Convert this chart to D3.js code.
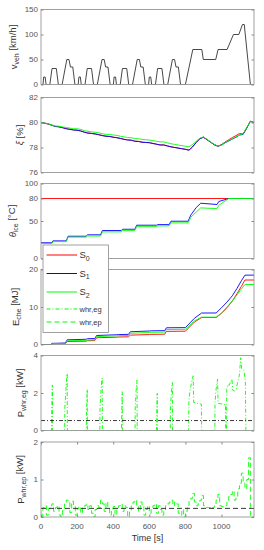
<!DOCTYPE html>
<html>
<head>
<meta charset="utf-8">
<script src="https://cdn.jsdelivr.net/npm/d3@7"></script>
<style>
  body { margin: 0; background: #fff; }
  svg { display: block; font-family: "Liberation Sans", Arial, sans-serif; }
</style>
</head>
<body>
<div id="chart"></div>
<script>
// Six stacked panels over the NEDC cycle: speed, SOC, engine temp, fuel energy, WHR powers.

// --- vehicle speed (NEDC breakpoints) ---
const speedTime = [0, 11, 15, 23, 28, 49, 61, 85, 96, 117, 143, 155, 163, 176, 188,
  195, 206, 210, 218, 223, 244, 256, 280, 291, 312, 338, 350, 358, 371, 383,
  390, 401, 405, 413, 418, 439, 451, 475, 486, 507, 533, 545, 553, 566, 578,
  585, 596, 600, 608, 613, 634, 646, 670, 681, 702, 728, 740, 748, 761, 773,
  780, 800, 841, 891, 899, 968, 981, 1031, 1066, 1096, 1116, 1126, 1160, 1180];
const speedKmh = [0, 0, 15, 15, 0, 0, 32, 32, 0, 0, 50, 50, 35, 35, 0,
  0, 0, 15, 15, 0, 0, 32, 32, 0, 0, 50, 50, 35, 35, 0,
  0, 0, 15, 15, 0, 0, 32, 32, 0, 0, 50, 50, 35, 35, 0,
  0, 0, 15, 15, 0, 0, 32, 32, 0, 0, 50, 50, 35, 35, 0,
  0, 0, 70, 70, 50, 50, 70, 70, 100, 100, 120, 120, 0, 0];

// --- xi [%] ---
const xiTime = [0, 20, 40, 60, 80, 100, 120, 140, 160, 180, 200, 220, 240, 260, 280, 300, 320, 340, 360, 380,
  400, 420, 440, 460, 480, 500, 520, 540, 560, 580, 600, 620, 640, 660, 680, 700, 720, 740, 760, 780,
  800, 820, 840, 860, 880, 900, 920, 940, 960, 980, 1000, 1020, 1040, 1060, 1080, 1100, 1120, 1140, 1160, 1180];
const xiS0 = [80.0, 79.95, 79.88, 79.79, 79.69, 79.66, 79.59, 79.51, 79.46, 79.41, 79.39, 79.33, 79.23, 79.16, 79.13, 79.09, 79.03, 78.96, 78.91, 78.89,
  78.83, 78.79, 78.73, 78.66, 78.61, 78.59, 78.51, 78.49, 78.43, 78.41, 78.39, 78.33, 78.27, 78.21, 78.21, 78.13, 78.06, 78.01, 77.96, 77.91,
  77.86, 77.8, 78.07, 78.42, 78.71, 78.83, 78.63, 78.43, 78.23, 78.1, 78.24, 78.44, 78.62, 78.8, 78.95, 79.12, 79.08, 79.58, 80.1, 80.0];
const xiS1 = [80.0, 79.95, 79.88, 79.78, 79.68, 79.65, 79.58, 79.5, 79.45, 79.4, 79.38, 79.32, 79.22, 79.15, 79.12, 79.08, 79.02, 78.95, 78.9, 78.88,
  78.82, 78.78, 78.72, 78.65, 78.6, 78.58, 78.5, 78.48, 78.42, 78.4, 78.38, 78.32, 78.26, 78.2, 78.2, 78.12, 78.05, 78.0, 77.95, 77.9,
  77.85, 77.78, 78.05, 78.4, 78.7, 78.82, 78.62, 78.42, 78.22, 78.1, 78.2, 78.38, 78.52, 78.68, 78.82, 79.0, 79.05, 79.55, 80.1, 80.0];
const xiS2 = [80.0, 79.95, 79.9, 79.8, 79.72, 79.7, 79.65, 79.6, 79.55, 79.5, 79.5, 79.45, 79.35, 79.3, 79.25, 79.22, 79.18, 79.1, 79.05, 79.05,
  79.0, 78.97, 78.9, 78.85, 78.8, 78.78, 78.72, 78.7, 78.65, 78.62, 78.6, 78.55, 78.5, 78.45, 78.45, 78.38, 78.3, 78.25, 78.2, 78.15,
  78.1, 78.05, 78.25, 78.5, 78.75, 78.85, 78.65, 78.45, 78.25, 78.12, 78.2, 78.4, 78.55, 78.7, 78.85, 79.0, 79.1, 79.6, 80.1, 80.0];

// --- engine temperature [degC] ---
const tempS0Time = [0, 1180];
const tempS0 = [80, 80];
const tempTime = [0, 60, 66, 140, 150, 250, 258, 330, 340, 445, 452, 520, 530, 640, 648, 710, 720, 815, 830, 860, 885, 975, 985, 1040, 1180];
const tempS1 = [21, 21, 23.5, 23.5, 29.7, 29.7, 31.6, 31.6, 37.3, 37.3, 39, 39, 44.4, 44.4, 45.2, 45.2, 49.7, 49.7, 58, 68, 73.7, 72, 76, 80, 80];
const tempS2 = [20, 20, 22.5, 22.5, 28.5, 28.5, 30, 30, 35.5, 35.5, 37.5, 37.5, 42.5, 42.5, 43.5, 43.5, 47.5, 47.5, 55, 62, 67.5, 66.5, 71, 80, 80];

// --- chemical energy [MJ] ---
const energyTime = [0, 55, 62, 135, 145, 250, 258, 298, 308, 420, 430, 485, 495, 600, 610, 685, 695, 800, 850, 890, 970, 1000, 1030, 1060, 1085, 1110, 1130, 1180];
const energyS0 = [0, 0, 0.2, 0.25, 0.8, 0.9, 1.0, 1.05, 1.8, 1.95, 2.0, 2.05, 2.5, 2.65, 2.7, 2.75, 3.5, 3.55, 6.0, 7.2, 7.2, 8.3, 9.8, 11.6, 13.5, 15.5, 17.2, 17.2];
const energyS1 = [0, 0, 0.3, 0.4, 1.25, 1.4, 1.55, 1.6, 2.4, 2.6, 2.65, 2.7, 3.4, 3.6, 3.65, 3.7, 4.46, 4.5, 7.0, 8.4, 8.4, 9.8, 11.3, 13.0, 14.9, 17.0, 18.5, 18.5];
const energyS2 = [0, 0, 0.25, 0.3, 1.0, 1.1, 1.2, 1.25, 2.1, 2.3, 2.35, 2.4, 3.0, 3.2, 3.25, 3.3, 4.0, 4.05, 6.3, 7.3, 7.3, 8.4, 10.0, 11.6, 13.2, 14.8, 16.0, 16.0];

// --- WHR power, exhaust gas [kW] ---
const egTime = [0, 58, 59, 63, 64, 131, 132, 140, 145, 146, 251, 252, 256, 257, 326, 327, 334, 339, 340,
  446, 447, 450, 451, 521, 522, 528, 532, 533, 640, 641, 644, 645, 716, 717, 723, 728, 729,
  818, 819, 825, 835, 843, 846, 860, 889, 890, 963, 964, 970, 978, 981, 1000, 1022, 1023,
  1028, 1029, 1035, 1042, 1050, 1058, 1062, 1072, 1082, 1090, 1100, 1106, 1112, 1125, 1132, 1135, 1180];
const egPower = [0, 0, 0.8, 2.42, 0, 0, 1.2, 2.5, 3.04, 0, 0, 0.8, 2.2, 0, 0, 1.2, 2.4, 2.8, 0,
  0, 0.8, 2.07, 0, 0, 1.2, 2.3, 2.68, 0, 0, 0.8, 1.98, 0, 0, 1.2, 2.2, 2.56, 0,
  0, 1.5, 2.1, 2.6, 2.92, 1.5, 1.48, 1.4, 0, 0, 1.5, 2.2, 2.74, 1.45, 1.42, 1.38, 0,
  0, 2.2, 2.45, 2.4, 2.6, 2.75, 2.15, 2.1, 2.2, 2.6, 3.0, 3.88, 3.3, 3.2, 2.6, 0, 0];
const egMean = 0.53;

// --- WHR power, exhaust pipe [kW] ---
const epTime = [0, 10, 20, 30, 40, 50, 60, 70, 80, 90, 100, 110, 120, 130, 140, 150, 160, 170, 180, 190,
  200, 210, 220, 230, 240, 250, 260, 270, 280, 290, 300, 310, 320, 330, 340, 350, 360, 370, 380, 390,
  400, 410, 420, 430, 440, 450, 460, 470, 480, 490, 500, 510, 520, 530, 540, 550, 560, 570, 580, 590,
  600, 610, 620, 630, 640, 650, 660, 670, 680, 690, 700, 710, 720, 730, 740, 750, 760, 770, 780, 790,
  800, 810, 820, 830, 840, 850, 860, 870, 880, 890, 900, 910, 920, 930, 940, 950, 960, 970, 980, 990,
  1000, 1010, 1020, 1030, 1040, 1050, 1060, 1070, 1080, 1090, 1100, 1110, 1120, 1130, 1140, 1150, 1160, 1170, 1180];
const epPower = [0, 0.25, 0.3, 0.05, 0.22, 0.3, 0.35, 0.15, 0.25, 0.3, 0.05, 0.0, 0.2, 0.35, 0.45, 0.38, 0.12, 0.42, 0.3, 0.05,
  0.22, 0.28, 0.1, 0.25, 0.3, 0.35, 0.2, 0.3, 0.1, 0.0, 0.2, 0.3, 0.25, 0.45, 0.35, 0.15, 0.4, 0.25, 0.05, 0.22,
  0.28, 0.05, 0.25, 0.3, 0.35, 0.15, 0.3, 0.25, 0.0, 0.15, 0.3, 0.4, 0.45, 0.3, 0.15, 0.4, 0.3, 0.05, 0.2, 0.3,
  0.1, 0.25, 0.3, 0.35, 0.1, 0.3, 0.2, 0.05, 0.15, 0.3, 0.35, 0.4, 0.45, 0.3, 0.4, 0.35, 0.1, 0.05, 0.2, 0.0,
  0.15, 0.3, 0.45, 0.5, 0.63, 0.4, 0.3, 0.35, 0.45, 0.57, 0.3, 0.25, 0.25, 0.25, 0.22, 0.25, 0.3, 0.45, 0.6, 0.3,
  0.28, 0.3, 0.3, 0.4, 0.55, 0.6, 0.7, 0.45, 0.55, 0.75, 0.9, 1.17, 0.9, 0.75, 1.0, 1.58, 0.0, 0.0, 0.0];
const epMean = 0.23;

const timeTicks = [0, 200, 400, 600, 800, 1000];
const legendLabels = [["S", "0"], ["S", "1"], ["S", "2"], ["whr,eg", ""], ["whr,ep", ""]];

// --- layout ---
const width = 264, height = 550;
const left = 41, right = 254;
const panelH = 75;
const RED = "#ff0000", BLUE = "#0000ff", GREEN = "#00ff00";
const DASHDOT = "4,2,1,2", DASHED = "5,3";

const zip = (xs, ys) => xs.map((x, i) => [x, ys[i]]);

const panels = [
  { top: 9.5, domain: [0, 150], ticks: [0, 50, 100, 150], labelX: 16.5,
    label: [["v"], ["veh", "sub"], [" [km/h]"]],
    series: [{ data: zip(speedTime, speedKmh), color: "#333" }] },
  { top: 97.5, domain: [76, 82], ticks: [76, 78, 80, 82], labelX: 23,
    label: [["ξ", "it"], [" [%]"]],
    series: [{ data: zip(xiTime, xiS0), color: RED }, { data: zip(xiTime, xiS1), color: BLUE },
             { data: zip(xiTime, xiS2), color: GREEN }] },
  { top: 183.5, domain: [0, 100], ticks: [0, 50, 80, 100], labelX: 16,
    label: [["θ", "it"], ["ice", "sub"], [" [°C]"]],
    series: [{ data: zip(tempS0Time, tempS0), color: RED }, { data: zip(tempTime, tempS1), color: BLUE },
             { data: zip(tempTime, tempS2), color: GREEN }] },
  { top: 269.5, domain: [0, 20], ticks: [0, 10, 20], labelX: 19,
    label: [["E"], ["che", "sub"], [" [MJ]"]],
    series: [{ data: zip(energyTime, energyS0), color: RED }, { data: zip(energyTime, energyS1), color: BLUE },
             { data: zip(energyTime, energyS2), color: GREEN }] },
  { top: 355.5, domain: [0, 4], ticks: [0, 2, 4], labelX: 24,
    label: [["P"], ["whr,eg", "sub"], [" [kW]"]],
    series: [{ data: zip(egTime, egPower), color: GREEN, dash: DASHDOT },
             { data: [[0, egMean], [1180, egMean]], color: "#222", dash: DASHDOT }] },
  { top: 442, domain: [0, 2], ticks: [0, 1, 2], labelX: 24, xAxis: true,
    label: [["P"], ["whr,ep", "sub"], [" [kW]"]],
    series: [{ data: zip(epTime, epPower), color: GREEN, dash: DASHED, step: true },
             { data: [[0, epMean], [1180, epMean]], color: "#222", dash: DASHED }] },
];

const svg = d3.select("#chart").append("svg")
  .attr("width", width).attr("height", height);

const x = d3.scaleLinear().domain([0, 1180]).range([left, right]);
const AXIS = "#8a8a8a", TEXT = "#555";

panels.forEach((p, i) => {
  const y = d3.scaleLinear().domain(p.domain).range([p.top + panelH, p.top]);
  const g = svg.append("g");

  g.append("clipPath").attr("id", "clip" + i)
    .append("rect").attr("x", left).attr("y", p.top).attr("width", right - left).attr("height", panelH);

  const plot = g.append("g").attr("clip-path", `url(#clip${i})`);
  p.series.forEach(s => {
    const line = d3.line().x(d => x(d[0])).y(d => y(d[1]));
    if (s.step) line.curve(d3.curveStepAfter);
    plot.append("path")
      .attr("d", line(s.data))
      .attr("fill", "none")
      .attr("stroke", s.color)
      .attr("stroke-width", 0.9)
      .attr("stroke-dasharray", s.dash || null);
  });

  // box + inward ticks on both sides
  g.append("rect").attr("x", left).attr("y", p.top).attr("width", right - left).attr("height", panelH)
    .attr("fill", "none").attr("stroke", AXIS).attr("stroke-width", 0.8);

  const yl = g.append("g").attr("transform", `translate(${left},0)`)
    .call(d3.axisRight(y).tickValues(p.ticks).tickSize(2.5).tickFormat(""));
  const yr = g.append("g").attr("transform", `translate(${right},0)`)
    .call(d3.axisLeft(y).tickValues(p.ticks).tickSize(2.5).tickFormat(""));
  [yl, yr].forEach(a => { a.select(".domain").remove(); a.selectAll("line").attr("stroke", AXIS); });

  g.selectAll(".ytl").data(p.ticks).join("text")
    .attr("x", left - 3).attr("y", d => y(d)).attr("dy", "0.34em")
    .attr("text-anchor", "end").attr("font-size", 8).attr("fill", TEXT)
    .text(d => d);

  if (p.xAxis) {
    const xb = g.append("g").attr("transform", `translate(0,${p.top + panelH})`)
      .call(d3.axisTop(x).tickValues(timeTicks).tickSize(2.5).tickFormat(""));
    const xt = g.append("g").attr("transform", `translate(0,${p.top})`)
      .call(d3.axisBottom(x).tickValues(timeTicks).tickSize(2.5).tickFormat(""));
    [xb, xt].forEach(a => { a.select(".domain").remove(); a.selectAll("line").attr("stroke", AXIS); });
    g.selectAll(".xtl").data(timeTicks).join("text")
      .attr("x", d => x(d)).attr("y", p.top + panelH + 11.5)
      .attr("text-anchor", "middle").attr("font-size", 8).attr("fill", TEXT)
      .text(d => d);
    g.append("text").attr("x", (left + right) / 2).attr("y", p.top + panelH + 24)
      .attr("text-anchor", "middle").attr("font-size", 9).attr("fill", "#333")
      .text("Time [s]");
  }

  // rotated y label with subscripts
  const cy = p.top + panelH / 2;
  const lab = g.append("text")
    .attr("transform", `translate(${p.labelX},${cy}) rotate(-90)`)
    .attr("text-anchor", "middle").attr("font-size", 9.5).attr("fill", "#333");
  p.label.forEach(([t, kind]) => {
    const ts = lab.append("tspan").text(t);
    if (kind === "it") ts.attr("font-style", "italic");
    if (kind === "sub") ts.attr("font-size", 7).attr("dy", "0.3em");
  });
  // restore baseline after a subscript
  lab.selectAll("tspan").each(function (d, k) {
    if (k > 0 && p.label[k - 1][1] === "sub") d3.select(this).attr("dy", "-0.3em");
  });
});

// legend (sits over panels 3 and 4)
const lg = svg.append("g");
lg.append("rect").attr("x", 43).attr("y", 245).attr("width", 65.5).attr("height", 87.5)
  .attr("fill", "#fff").attr("stroke", AXIS).attr("stroke-width", 0.8);
const legendStyle = [[RED, null], [BLUE, null], [GREEN, null], [GREEN, DASHDOT], [GREEN, DASHED]];
const legendY = [255, 273.5, 292, 309, 322];
legendLabels.forEach((lbl, i) => {
  lg.append("line").attr("x1", 46.5).attr("x2", 77).attr("y1", legendY[i]).attr("y2", legendY[i])
    .attr("stroke", legendStyle[i][0]).attr("stroke-width", 1)
    .attr("stroke-dasharray", legendStyle[i][1]);
  const t = lg.append("text").attr("x", 79.5).attr("y", legendY[i]).attr("dy", "0.35em")
    .attr("fill", "#333").attr("font-size", lbl[1] ? 9.5 : 7.5);
  t.append("tspan").text(lbl[0]);
  if (lbl[1]) t.append("tspan").attr("font-size", 7).attr("dy", "0.35em").text(lbl[1]);
});
</script>
</body>
</html>
